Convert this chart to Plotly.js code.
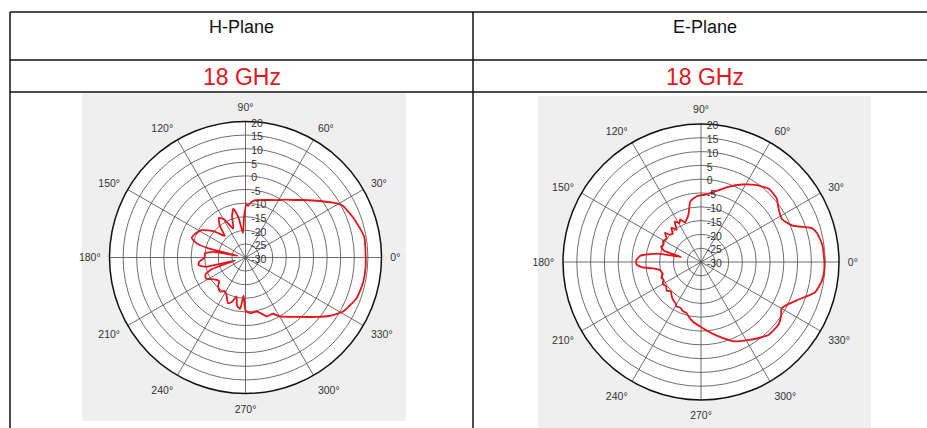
<!DOCTYPE html>
<html>
<head>
<meta charset="utf-8">
<script src="https://cdn.plot.ly/plotly-3.0.1.min.js"></script>
<style>html,body{margin:0;padding:0;background:#fff;}#chart{width:927px;height:428px;}</style>
</head>
<body>
<div id="chart"></div>
<script>
// ---- data ----
const columnTitles = ["H-Plane", "E-Plane"];
const frequencyLabel = "18 GHz";

const hTheta = [0, 10, 20, 28, 32, 40, 45, 50, 55, 60, 70, 80, 84, 87, 89, 92, 96, 100, 104, 108, 113, 119, 124, 129, 134, 140, 148, 155, 160, 164, 166, 168, 170, 174, 180, 185, 189, 193, 196, 199, 203, 208, 215, 222, 226, 233, 238, 243, 249, 253, 257, 260, 264, 267, 270, 275, 282, 290, 296, 300, 310, 320, 325, 331, 340, 348, 355, 360];
const hGain  = [14.2, 14.3, 12.3, 10.5, 8, 2.6, -0.1, -2.4, -4, -5.6, -7.5, -8.6, -9.5, -11, -10.5, -15, -21, -15, -11.5, -14, -18.5, -14, -12.5, -15, -19, -15, -11, -9.5, -9, -11.5, -16, -27, -18, -15, -15, -13, -12.5, -15, -26, -17, -14, -13.5, -16, -17, -15.5, -14.3, -15.5, -14.6, -12, -13, -15.3, -12, -11, -16, -10.5, -9.4, -9.7, -7, -7, -5, -1.5, 4, 7.5, 11, 13.5, 14.2, 14.3, 14.2];

const eTheta = [0, 8, 14, 17, 19, 22, 28, 34, 40, 47, 55, 62, 70, 79, 87, 93, 100, 104, 106, 112, 116, 119, 123, 127, 131, 135, 139, 141, 146, 151, 156, 159, 163, 166, 169, 174, 178, 182, 185, 188, 191, 197, 202, 205, 210, 215, 220, 224, 228, 233, 238, 241, 246, 250, 254, 258, 263, 269, 275, 281, 287, 293, 301, 307, 313, 321, 326, 330, 334, 339, 345, 351, 355, 360];
const eGain  = [14.7, 14.4, 13.3, 12, 9, 5.5, 3.2, 4, 5.8, 6.2, 4.1, 1.8, -1, -4, -5.6, -6, -7.7, -11.7, -12.8, -14.5, -12.8, -13.9, -12.5, -15.3, -13.6, -15.5, -14.9, -13.2, -15, -14.3, -15, -14.5, -16, -22.6, -14, -8, -6.6, -6.6, -8.5, -13, -14.8, -15.5, -14.5, -15, -14, -14.6, -13.8, -14.8, -14, -13, -12.5, -11.6, -11.8, -11, -10.8, -9.5, -8, -6.7, -5, -3.1, -1, 1.2, 3, 4.5, 6, 6.1, 5, 3.7, 5, 7.9, 12.7, 14.3, 14.7, 14.7];

const radialTicks = [-30, -25, -20, -15, -10, -5, 0, 5, 10, 15, 20];
const angleTicks = [0, 30, 60, 90, 120, 150, 180, 210, 240, 270, 300, 330];

// ---- geometry helpers (pixel -> paper) ----
const W = 927, H = 428;
const px = x => x / W;
const py = y => 1 - y / H;

const RED = '#e8141c';
const GRID = '#4a4a4a';
const FONT = 'Liberation Sans, Arial, sans-serif';

function polarCfg(cx, cy, r) {
  return {
    domain: { x: [px(cx - r), px(cx + r)], y: [py(cy + r), py(cy - r)] },
    bgcolor: '#ffffff',
    radialaxis: {
      range: [-30, 20], tickvals: radialTicks, ticktext: radialTicks.map(String),
      angle: 90, side: 'clockwise', showline: false, ticks: '',
      gridcolor: GRID, gridwidth: 0.8,
      tickfont: { family: FONT, size: 10.5, color: '#333' }
    },
    angularaxis: {
      direction: 'counterclockwise', rotation: 0,
      tickvals: angleTicks, ticktext: angleTicks.map(a => a + '°'),
      ticks: 'outside', ticklen: 6, tickcolor: 'rgba(0,0,0,0)',
      showline: true, linecolor: '#111', linewidth: 1.5,
      gridcolor: GRID, gridwidth: 0.8,
      tickfont: { family: FONT, size: 10.5, color: '#333' }
    }
  };
}

const traces = [
  { type: 'scatterpolar', mode: 'lines', theta: hTheta, r: hGain, subplot: 'polar',
    line: { color: RED, width: 1.8, shape: 'spline', smoothing: 0.5 }, hoverinfo: 'skip' },
  { type: 'scatterpolar', mode: 'lines', theta: eTheta, r: eGain, subplot: 'polar2',
    line: { color: RED, width: 1.8, shape: 'spline', smoothing: 0.5 }, hoverinfo: 'skip' }
];

const lineStyle = { color: '#111', width: 1.5 };
const shapes = [
  { type: 'rect', xref: 'paper', yref: 'paper', x0: px(82), x1: px(406), y0: py(421), y1: py(93), fillcolor: '#efefef', line: { width: 0 }, layer: 'below' },
  { type: 'rect', xref: 'paper', yref: 'paper', x0: px(538), x1: px(871), y0: py(428), y1: py(96), fillcolor: '#efefef', line: { width: 0 }, layer: 'below' },
  { type: 'line', xref: 'paper', yref: 'paper', x0: px(10), x1: 1, y0: py(12), y1: py(12), line: lineStyle },
  { type: 'line', xref: 'paper', yref: 'paper', x0: px(10), x1: 1, y0: py(60), y1: py(60), line: lineStyle },
  { type: 'line', xref: 'paper', yref: 'paper', x0: px(10), x1: 1, y0: py(92), y1: py(92), line: lineStyle },
  { type: 'line', xref: 'paper', yref: 'paper', x0: px(10), x1: px(10), y0: py(12), y1: 0, line: lineStyle },
  { type: 'line', xref: 'paper', yref: 'paper', x0: px(473), x1: px(473), y0: py(12), y1: 0, line: lineStyle }
];

const headFont = { family: FONT, size: 18, color: '#111' };
const freqFont = { family: FONT, size: 23, color: RED };
const annotations = [
  { text: columnTitles[0], x: px(241.5), y: py(27), xref: 'paper', yref: 'paper', showarrow: false, font: headFont, xanchor: 'center', yanchor: 'middle' },
  { text: columnTitles[1], x: px(704.5), y: py(27), xref: 'paper', yref: 'paper', showarrow: false, font: headFont, xanchor: 'center', yanchor: 'middle' },
  { text: frequencyLabel, x: px(241.5), y: py(77), xref: 'paper', yref: 'paper', showarrow: false, font: freqFont, xanchor: 'center', yanchor: 'middle' },
  { text: frequencyLabel, x: px(705), y: py(77), xref: 'paper', yref: 'paper', showarrow: false, font: freqFont, xanchor: 'center', yanchor: 'middle' }
];

const layout = {
  width: W, height: H,
  margin: { l: 0, r: 0, t: 0, b: 0 },
  paper_bgcolor: '#ffffff',
  showlegend: false,
  polar: polarCfg(245.5, 257.5, 136),
  polar2: polarCfg(701, 262, 138),
  shapes: shapes,
  annotations: annotations
};

Plotly.newPlot('chart', traces, layout, { staticPlot: true, displayModeBar: false });
</script>
</body>
</html>
